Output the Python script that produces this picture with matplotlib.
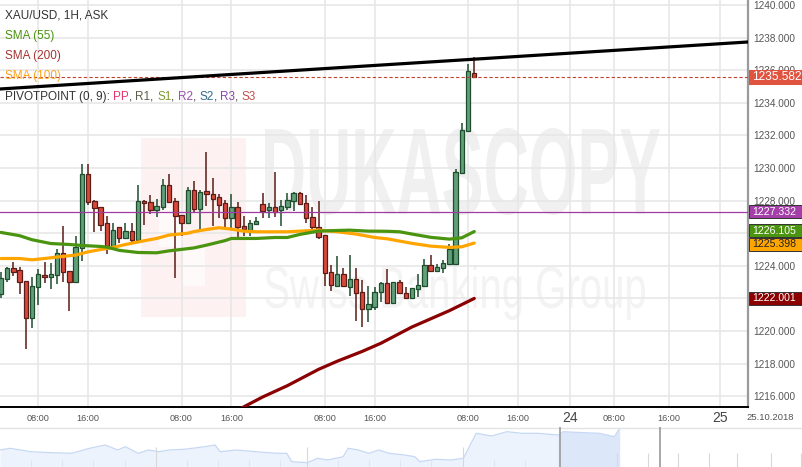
import numpy as np
import matplotlib.pyplot as plt
from matplotlib.textpath import TextPath
from matplotlib.patches import PathPatch, Rectangle
from matplotlib.font_manager import FontProperties
from matplotlib.transforms import Affine2D, blended_transform_factory

plt.rcParams['font.family'] = ['Liberation Sans', 'DejaVu Sans']

# XAU/USD 1H candles
opens = [1222.25, 1223.17, 1223.84, 1223.72, 1223.10, 1220.77, 1222.68, 1223.41, 1223.33, 1223.41,
         1224.76, 1223.66, 1223.02, 1225.07, 1229.63, 1227.97, 1227.58, 1226.60, 1225.23, 1226.36,
         1225.72, 1226.13, 1225.56, 1227.97, 1227.89, 1227.40, 1227.58, 1228.95, 1227.97, 1227.09,
         1226.60, 1228.63, 1227.50, 1228.57, 1228.38, 1228.20, 1227.83, 1226.95, 1227.58, 1226.46,
         1226.19, 1226.54, 1227.77, 1227.40, 1227.58, 1227.40, 1227.58, 1227.99, 1228.44, 1227.83,
         1226.97, 1226.40, 1225.87, 1223.64, 1222.78, 1223.53, 1222.72, 1223.17, 1222.37, 1221.33,
         1221.49, 1222.37, 1222.92, 1221.70, 1222.98, 1222.31, 1222.00, 1222.56, 1222.76, 1224.03,
         1223.70, 1223.84, 1224.11, 1224.09, 1229.67, 1232.27, 1235.85]
highs = [1223.60, 1223.94, 1224.25, 1223.94, 1223.10, 1223.33, 1223.80, 1224.21, 1224.15, 1225.03,
         1226.44, 1223.66, 1225.82, 1230.24, 1230.24, 1228.07, 1227.58, 1227.05, 1226.60, 1226.36,
         1226.60, 1226.60, 1228.95, 1228.07, 1228.34, 1228.10, 1229.32, 1229.63, 1228.14, 1227.09,
         1228.83, 1229.20, 1228.65, 1230.96, 1229.38, 1228.40, 1228.07, 1228.40, 1227.89, 1227.07,
         1226.81, 1227.01, 1228.44, 1227.83, 1229.73, 1228.07, 1228.48, 1228.53, 1228.53, 1228.34,
         1227.58, 1227.97, 1225.87, 1224.05, 1224.60, 1223.84, 1224.64, 1223.84, 1223.13, 1222.76,
         1222.72, 1223.02, 1223.80, 1222.98, 1223.13, 1222.68, 1222.62, 1223.50, 1224.40, 1224.66,
         1224.09, 1224.36, 1225.32, 1229.94, 1232.78, 1236.36, 1236.83]
lows = [1222.00, 1223.02, 1223.37, 1222.27, 1218.89, 1220.20, 1221.59, 1222.96, 1222.57, 1222.88,
        1223.02, 1221.23, 1223.02, 1224.31, 1227.73, 1226.09, 1226.13, 1224.74, 1224.97, 1225.42,
        1225.62, 1225.42, 1225.56, 1226.50, 1227.16, 1227.01, 1227.42, 1227.89, 1223.27, 1225.82,
        1226.60, 1227.22, 1226.25, 1227.69, 1226.44, 1226.91, 1226.23, 1226.19, 1225.72, 1225.82,
        1225.82, 1226.50, 1226.91, 1226.95, 1227.01, 1226.44, 1227.42, 1227.36, 1227.73, 1226.64,
        1226.19, 1225.64, 1222.78, 1222.47, 1222.72, 1222.72, 1222.17, 1220.61, 1220.26, 1220.57,
        1221.29, 1221.80, 1221.70, 1221.70, 1222.25, 1221.96, 1222.00, 1222.10, 1222.76, 1223.64,
        1223.60, 1223.58, 1224.05, 1224.05, 1229.61, 1232.27, 1235.56]
closes = [1223.23, 1223.84, 1223.64, 1223.02, 1220.77, 1222.76, 1223.47, 1223.33, 1223.47, 1224.76,
          1223.60, 1223.02, 1225.15, 1229.63, 1227.93, 1227.52, 1226.52, 1225.23, 1226.19, 1225.68,
          1226.13, 1225.56, 1227.97, 1227.83, 1227.40, 1227.67, 1228.95, 1227.89, 1227.03, 1226.64,
          1228.63, 1227.46, 1228.55, 1228.38, 1228.12, 1227.75, 1226.95, 1227.58, 1226.40, 1226.25,
          1226.60, 1226.75, 1227.38, 1227.58, 1227.30, 1227.67, 1228.07, 1228.44, 1227.77, 1226.91,
          1226.40, 1225.78, 1223.57, 1222.82, 1223.53, 1222.78, 1223.17, 1222.31, 1221.33, 1221.63,
          1222.41, 1222.92, 1221.70, 1222.98, 1222.35, 1222.00, 1222.62, 1222.80, 1224.03, 1223.70,
          1223.93, 1224.15, 1225.05, 1229.73, 1232.33, 1235.95, 1235.582]

# moving averages (sampled at candle index)
sma55_idx = [0, 3, 5, 8, 11, 13, 16, 17, 19, 22, 25, 27, 29, 31, 33, 36, 37, 41, 44, 46,
             48, 51, 54, 56, 59, 62, 64, 66, 69, 72, 74, 76]
sma55_val = [1226.05, 1225.85, 1225.60, 1225.37, 1225.31, 1225.25, 1225.19, 1225.15, 1224.95, 1224.82,
             1224.80, 1224.92, 1225.01, 1225.10, 1225.27, 1225.55, 1225.68, 1225.68, 1225.74, 1225.74,
             1225.93, 1226.13, 1226.17, 1226.19, 1226.13, 1226.12, 1226.09, 1225.95, 1225.75, 1225.64,
             1225.72, 1226.105]
sma100_idx = [0, 3, 5, 7, 9, 12, 14, 16, 18, 20, 23, 25, 27, 30, 31, 33, 35, 37, 39, 41,
              46, 51, 54, 57, 60, 62, 64, 66, 69, 72, 74, 76]
sma100_val = [1224.45, 1224.45, 1224.37, 1224.45, 1224.54, 1224.66, 1224.86, 1225.00, 1225.13, 1225.31,
              1225.54, 1225.68, 1225.89, 1226.00, 1226.10, 1226.23, 1226.34, 1226.25, 1226.13, 1226.09,
              1226.09, 1226.19, 1226.09, 1225.95, 1225.74, 1225.66, 1225.52, 1225.38, 1225.21, 1225.13,
              1225.17, 1225.398]
sma200_idx = [37, 42, 46, 51, 54, 58, 61, 66, 72, 76]
sma200_val = [1214.95, 1215.95, 1216.65, 1217.65, 1218.15, 1218.75, 1219.25, 1220.25, 1221.25, 1222.001]

trend_idx = [-1, 121]
trend_val = [1234.83, 1237.76]
pivot_pp = 1227.332
last_price = 1235.582

yticks = [1216, 1218, 1220, 1222, 1224, 1226, 1228, 1230, 1232, 1234, 1236, 1238, 1240]
hidden_yticks = [1222, 1226]   # covered by the price tags in the original
xtick_pos = [6, 14, 29, 37, 52, 60, 75, 83, 91.4, 98.4, 107.2, 115.5]
xtick_lab = ['08:00', '16:00', '08:00', '16:00', '08:00', '16:00', '08:00', '16:00', '24',
             '08:00', '16:00', '25']

# navigator (overview strip at the bottom)
nav_x = [0, 10.2, 30.7, 51.2, 71.7, 89.6, 105, 117.8, 125.4, 138.2, 148.5, 158.7, 169, 184.3,
         204.8, 215, 220.2, 235.5, 256, 276.5, 286.7, 291.9, 307.2, 317.5, 327.7, 343.1, 348.2,
         358.4, 368.7, 378.9, 389.1, 404.5, 414.7, 419.9, 435.2, 450.6, 463.4, 468.5, 476.2,
         491.6, 506.9, 522.3, 537.6, 558.1, 563.2, 583.7, 599.1, 614.4, 619.6]
nav_h = [17, 18.7, 15.3, 14.3, 13.7, 18.7, 22, 17, 20.3, 13.7, 17, 15.3, 17, 17.7,
         20.3, 22, 15.3, 17, 15.3, 13.7, 13.7, 5.3, 4.3, 8.7, 7, 10.3, 18.7,
         17, 13.7, 17, 13.7, 12, 10.3, 5.3, 7.7, 7, 8.7, 18.7, 33.7,
         31, 35.3, 33.7, 33.7, 32, 35.3, 34.3, 33.7, 30.3, 38.7]

W, H = 803, 467
fig = plt.figure(figsize=(W / 100, H / 100), dpi=100)

# watermark layer
bg = fig.add_axes([0, 0, 1, 1], zorder=0)
bg.set_xlim(0, W)
bg.set_ylim(H, 0)
bg.axis('off')
bg.add_patch(Rectangle((141, 138), 105, 179, fc='#fdf1f2', ec='none'))
bg.add_patch(Rectangle((159, 208), 24, 39, fc='#fffafa', ec='none'))
bg.add_patch(Rectangle((183, 247), 22, 39, fc='#fffafa', ec='none'))


def fit_text(ax, s, box, color, weight):
    x0, y0, x1, y1 = box
    tp = TextPath((0, 0), s, size=1, prop=FontProperties(family='Liberation Sans', weight=weight))
    ext = tp.get_extents()
    tr = Affine2D().translate(-ext.x0, -ext.y0).scale((x1 - x0) / ext.width, -(y1 - y0) / ext.height)
    tr = tr.translate(x0, y1)
    ax.add_patch(PathPatch(tr.transform_path(tp), fc=color, ec='none'))


fit_text(bg, 'DUKASCOPY', (265, 128, 660, 215), '#f0f0f0', 'bold')
fit_text(bg, 'Swiss Banking Group', (265, 265, 645, 320), '#f3f3f3', 'normal')

# main chart
ax = fig.add_axes([0, 60 / H, 748 / W, 407 / H], zorder=1)
ax.set_facecolor('none')
ax.set_xlim(-0.15, 119.95)
ax.set_ylim(1215.34, 1240.31)

idx = np.arange(len(opens))
o = np.array(opens)
c = np.array(closes)
up = c >= o
fill = np.where(up, '#62a07a', '#d8493a')
edge = np.where(up, '#1d4d2c', '#5a1c16')
body_lo = np.minimum(o, c)
body_h = np.maximum(np.abs(c - o), 0.07)
ax.vlines(idx, lows, highs, colors=edge, lw=1.1, zorder=2)
ax.bar(idx, body_h, bottom=body_lo, width=0.7, color=fill, edgecolor=edge, linewidth=0.9, zorder=3)

ax.plot(sma200_idx, sma200_val, color='#8b0000', lw=2.3, zorder=4, solid_capstyle='round')
ax.plot(sma100_idx, sma100_val, color='#ffa500', lw=2.3, zorder=4, solid_capstyle='round')
ax.plot(sma55_idx, sma55_val, color='#4b9410', lw=2.3, zorder=4, solid_capstyle='round')
ax.axhline(pivot_pp, color='#a23aa6', lw=0.9, zorder=5)
ax.axhline(last_price, color='#c0432f', lw=0.8, ls=(0, (3, 2)), zorder=5)
ax.plot(trend_idx, trend_val, color='black', lw=2.3, zorder=6)

ax.set_yticks(yticks)
ax.set_yticklabels(['' if v in hidden_yticks else f'{v:.3f}' for v in yticks])
ax.yaxis.tick_right()
ax.tick_params(axis='y', length=0, pad=4, labelsize=7.2, labelcolor='#555555')
ax.set_xticks(xtick_pos)
ax.set_xticklabels(xtick_lab)
ax.tick_params(axis='x', length=0, pad=5, labelsize=6.6, labelcolor='#555555')
for lab in ax.get_xticklabels():
    if lab.get_text() in ('24', '25'):
        lab.set_fontsize(10)
        lab.set_color('#444444')
        lab.set_y(0.008)
ax.grid(True, color='#e6e6e6', lw=1.1)
ax.set_axisbelow(True)
for s in ('top', 'left'):
    ax.spines[s].set_visible(False)
ax.spines['right'].set_color('#9a9a9a')
ax.spines['right'].set_linewidth(1.6)
ax.spines['bottom'].set_color('black')
ax.spines['bottom'].set_linewidth(1.4)

# price tags on the right axis
trans = blended_transform_factory(ax.transAxes, ax.transData)
tag_w = (W - 749) / 748
tags = [(last_price, '#e0533e', 'white', 8.6, 0, 0.46),
        (pivot_pp, '#a43ea8', 'white', 7.6, 0, 0.40),
        (sma55_val[-1], '#4b9410', 'white', 7.6, 0.06, 0.40),
        (sma100_val[-1], '#ffa500', '#222222', 7.6, -0.08, 0.40),
        (sma200_val[-1], '#8b0000', 'white', 7.6, 0, 0.40)]
for val, fc, tc, fs, dy, hh in tags:
    ec = 'none' if val == last_price else '#333333'
    ax.add_patch(Rectangle((1.0015, val + dy - hh), tag_w, 2 * hh, transform=trans, fc=fc, ec=ec,
                           lw=0.7, clip_on=False, zorder=10))
    ax.text(1.006, val + dy, f'{val:.3f}', transform=trans, ha='left', va='center', fontsize=fs,
            color=tc, clip_on=False, zorder=11)

fig.text(770 / W, 1 - 417 / H, '25.10.2018', ha='center', va='center', fontsize=6.8, color='#555555')

# legend block at top-left
fs = 8.5
fig.text(5 / W, 1 - 16 / H, 'XAU/USD, 1H, ASK', fontsize=fs, color='#333333', va='center', zorder=8)
fig.text(5 / W, 1 - 36.5 / H, 'SMA (55)', fontsize=fs, color='#4b9410', va='center', zorder=8)
fig.text(5 / W, 1 - 56 / H, 'SMA (200)', fontsize=fs, color='#a83232', va='center', zorder=8)
fig.text(5 / W, 1 - 76 / H, 'SMA (100)', fontsize=fs, color='#ffa31a', va='center', zorder=8)
t = fig.text(5 / W, 1 - 97 / H, 'PIVOTPOINT (0, 9): ', fontsize=fs, color='#333333', va='center', zorder=8)
pieces = [('PP', '#e8336d'), (', ', '#333333'), ('R1', '#5e5e4a'), (', ', '#333333'),
          ('S1', '#7f9a30'), (', ', '#333333'), ('R2', '#9b4fb0'), (', ', '#333333'),
          ('S2', '#2f6b88'), (', ', '#333333'), ('R3', '#8e44ad'), (', ', '#333333'),
          ('S3', '#c0504d')]
for s, col in pieces:
    t = ax.annotate(s, xy=(1, 0), xycoords=t, va='bottom', ha='left', fontsize=fs, color=col,
                    annotation_clip=False, zorder=8)

# navigator strip
nav = fig.add_axes([0, 0, 1, 40 / H], zorder=1)
nav.set_xlim(0, W)
nav.set_ylim(0, 40)
nav.axis('off')
nx = np.array(nav_x)
nh = np.array(nav_h)
nav.fill_between(nx, nh, color='#edf3fc', lw=0)
win = nx >= 558
nav.fill_between(nx[win], nh[win], color='#dce8fa', lw=0)
nav.plot(nx, nh, color='#c6d8f4', lw=0.9)
nav.axhline(39.5, color='#e3e3e3', lw=1)
for xp in [156, 307, 463, 617, 648, 678, 709, 737, 771, 801]:
    nav.vlines(xp, 0, 14 if xp > 600 else 20, color='#d8d8d8', lw=0.8)
for xp in [31, 62, 93, 125, 187, 218, 249, 280, 338, 369, 400, 431, 494, 525]:
    nav.vlines(xp, 0, 7, color='#dfe6f0', lw=0.8)
nav.vlines([560, 660], 0, 40, color='#9a9a9a', lw=1.2)

fig.savefig('out.png', dpi=100)
